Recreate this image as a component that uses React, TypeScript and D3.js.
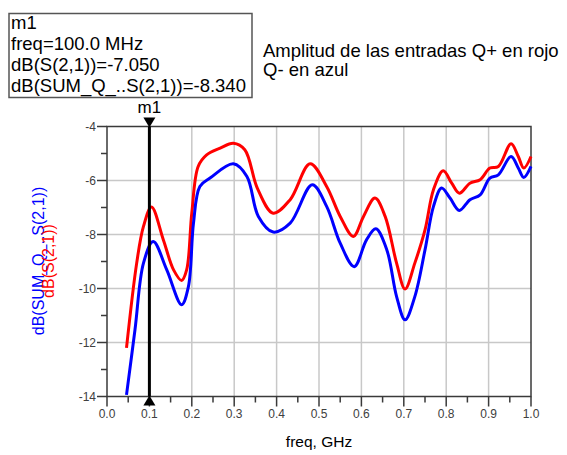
import React from "react";
import * as d3 from "d3";

// Q+ input amplitude, dB(S(2,1)) — red trace
const redFreq = [0.046, 0.07, 0.086, 0.105, 0.133, 0.157, 0.176, 0.188, 0.2, 0.215, 0.235, 0.267, 0.298, 0.325, 0.355, 0.392, 0.432, 0.479, 0.518, 0.55, 0.581, 0.605, 0.632, 0.656, 0.683, 0.703, 0.726, 0.75, 0.77, 0.793, 0.813, 0.831, 0.856, 0.88, 0.903, 0.923, 0.953, 0.97, 0.983, 1.0];
const redDb = [-12.2, -9.06, -7.7, -6.98, -8.2, -9.31, -9.7, -9.3, -7.2, -5.48, -5.05, -4.8, -4.62, -4.86, -6.3, -7.21, -6.71, -5.38, -6.22, -7.33, -8.07, -7.33, -6.65, -7.33, -9.06, -10.02, -9.06, -7.83, -6.34, -5.64, -6.1, -6.47, -6.1, -5.97, -5.54, -5.48, -4.64, -5.11, -5.54, -5.11];

// Q- input amplitude, dB(SUM_Q_..S(2,1)) — blue trace
const blueFreq = [0.046, 0.066, 0.086, 0.109, 0.141, 0.176, 0.192, 0.204, 0.219, 0.243, 0.298, 0.33, 0.357, 0.392, 0.432, 0.484, 0.518, 0.55, 0.583, 0.612, 0.634, 0.66, 0.683, 0.703, 0.726, 0.75, 0.77, 0.789, 0.809, 0.831, 0.856, 0.88, 0.903, 0.923, 0.953, 0.97, 0.983, 1.0];
const blueDb = [-13.94, -11.53, -9.06, -8.26, -9.31, -10.6, -9.93, -7.58, -6.22, -5.91, -5.38, -5.85, -7.33, -7.91, -7.58, -6.16, -6.96, -8.32, -9.19, -8.2, -7.79, -8.57, -10.3, -11.16, -10.3, -8.57, -6.96, -6.28, -6.65, -7.11, -6.71, -6.53, -5.91, -5.79, -5.11, -5.54, -5.89, -5.48];

const xTicks = [0, 0.1, 0.2, 0.3, 0.4, 0.5, 0.6, 0.7, 0.8, 0.9, 1.0];
const xMinor = [0.05, 0.15, 0.25, 0.35, 0.45, 0.55, 0.65, 0.75, 0.85, 0.95];
const yTicks = [-4, -6, -8, -10, -12, -14];
const yMinor = [-5, -7, -9, -11, -13];

const markerFreq = 0.1;
const markerLines = ["m1", "freq=100.0 MHz", "dB(S(2,1))=-7.050", "dB(SUM_Q_..S(2,1))=-8.340"];
const noteLines = ["Amplitud de las entradas Q+ en rojo", "Q- en azul"];

const W = 567;
const H = 455;
const L = 107, R = 531, T = 126.5, B = 396.5;
const FONT = "Liberation Sans, Arial, sans-serif";

export default function App() {
  const x = d3.scaleLinear().domain([0, 1]).range([L, R]);
  const y = d3.scaleLinear().domain([-14, -4]).range([B, T]);

  const line = d3
    .line<[number, number]>()
    .x((d) => x(d[0]))
    .y((d) => y(d[1]))
    .curve(d3.curveCatmullRom.alpha(0.5));

  const redPath = line(redFreq.map((f, i) => [f, redDb[i]]) as [number, number][]) ?? "";
  const bluePath = line(blueFreq.map((f, i) => [f, blueDb[i]]) as [number, number][]) ?? "";

  const mx = x(markerFreq);
  const grid = "#c8c8c8";
  const axisCol = "#3a3a3a";
  const tickText = "#404040";

  return (
    <svg
      width={W}
      height={H}
      style={{ position: "absolute", left: 0, top: 0, background: "#fff" }}
      fontFamily={FONT}
    >
      {/* marker readout box */}
      <rect x={9} y={13.5} width={243} height={84} fill="#fff" stroke="#555" strokeWidth={1.5} />
      {markerLines.map((t, i) => (
        <text key={t} x={11} y={29 + i * 21} fontSize={18.5} fill="#000">
          {t}
        </text>
      ))}

      {/* annotation */}
      {noteLines.map((t, i) => (
        <text key={t} x={263} y={57 + i * 19} fontSize={18.5} fill="#000">
          {t}
        </text>
      ))}

      {/* grid */}
      {xTicks.slice(1, -1).map((v) => (
        <line key={"gx" + v} x1={x(v)} x2={x(v)} y1={T} y2={B} stroke={grid} strokeWidth={1.5} />
      ))}
      {yTicks.slice(1, -1).map((v) => (
        <line key={"gy" + v} x1={L} x2={R} y1={y(v)} y2={y(v)} stroke={grid} strokeWidth={1.5} />
      ))}

      {/* frame */}
      <rect x={L} y={T} width={R - L} height={B - T} fill="none" stroke={axisCol} strokeWidth={1.5} />

      {/* x ticks */}
      {xTicks.map((v) => (
        <g key={"xt" + v}>
          <line x1={x(v)} x2={x(v)} y1={B} y2={B + 10} stroke={axisCol} strokeWidth={1.5} />
          <text x={x(v)} y={418} fontSize={12} textAnchor="middle" fill={tickText}>
            {v.toFixed(1)}
          </text>
        </g>
      ))}
      {xMinor.map((v) => (
        <line key={"xm" + v} x1={x(v)} x2={x(v)} y1={B} y2={B + 6} stroke={axisCol} strokeWidth={1.5} />
      ))}

      {/* y ticks */}
      {yTicks.map((v) => (
        <g key={"yt" + v}>
          <line x1={L - 10} x2={L} y1={y(v)} y2={y(v)} stroke={axisCol} strokeWidth={1.5} />
          <text x={L - 11} y={y(v) + 4.5} fontSize={12} textAnchor="end" fill={tickText}>
            {v}
          </text>
        </g>
      ))}
      {yMinor.map((v) => (
        <line key={"ym" + v} x1={L - 6} x2={L} y1={y(v)} y2={y(v)} stroke={axisCol} strokeWidth={1.5} />
      ))}

      {/* traces */}
      <path d={redPath} fill="none" stroke="#ff0000" strokeWidth={3} strokeLinejoin="round" />
      <path d={bluePath} fill="none" stroke="#0000ff" strokeWidth={3} strokeLinejoin="round" />

      {/* marker m1 */}
      <line x1={mx} x2={mx} y1={T} y2={B} stroke="#000" strokeWidth={3} />
      <path d={`M${mx - 6},${T - 9} L${mx + 6},${T - 9} L${mx},${T + 1} Z`} fill="#000" />
      <path d={`M${mx - 6},${B + 9} L${mx + 6},${B + 9} L${mx},${B - 1} Z`} fill="#000" />
      <text x={mx} y={113} fontSize={17} textAnchor="middle" fill="#000">
        m1
      </text>

      {/* axis titles */}
      <text x={319} y={447} fontSize={15.5} textAnchor="middle" fill="#000">
        freq, GHz
      </text>
      <text
        transform={`translate(44,${261}) rotate(-90)`}
        fontSize={16}
        textAnchor="middle"
        fill="#0000ff"
      >
        dB(SUM_Q_..S(2,1))
      </text>
      <text
        transform={`translate(54,${261}) rotate(-90)`}
        fontSize={16}
        textAnchor="middle"
        fill="#ff0000"
      >
        dB(S(2,1))
      </text>
    </svg>
  );
}
